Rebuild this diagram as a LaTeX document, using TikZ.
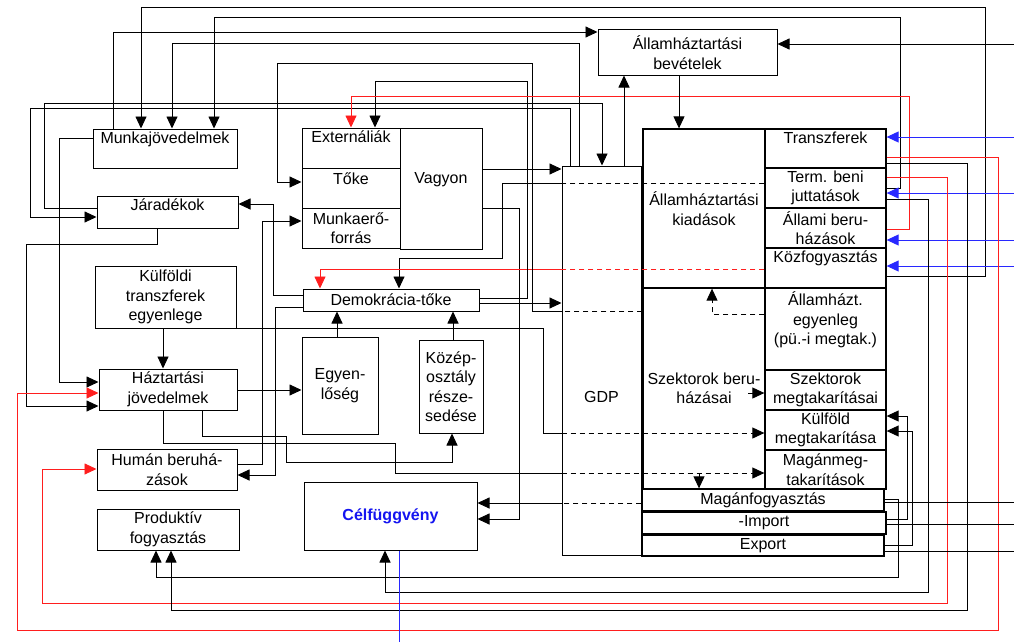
\documentclass[tikz,border=0pt]{standalone}
\usepackage{fontspec}
\setmainfont{Liberation Sans}
\usetikzlibrary{arrows.meta}
\definecolor{ln_red}{RGB}{255, 30, 30}
\definecolor{ln_blue}{RGB}{40, 40, 255}
\definecolor{goal_blue}{RGB}{20, 20, 240}
\tikzstyle{box}=[rectangle,draw=black,line width=1pt,inner sep=0pt,
  align=center,font=\fontsize{16}{19.5}\selectfont]
\tikzstyle{toplbl}=[anchor=north,inner sep=3pt]
\tikzstyle{wire}=[line width=0.9pt]
\tikzstyle{arr}=[wire,-{Triangle[length=12pt,width=11pt]}]
\tikzstyle{dashline}=[wire,dash pattern=on 5pt off 4pt]
\tikzstyle{dasharr}=[arr,dash pattern=on 5pt off 4pt]
\tikzstyle{red_arr}=[arr,draw=ln_red]
\tikzstyle{blue_arr}=[arr,draw=ln_blue]

\begin{document}
\begin{tikzpicture}[x=1pt, y=-1pt, every label/.style={font=\fontsize{16}{19.5}\selectfont}]
            \useasboundingbox (0,0) rectangle (1014,642);
            \node [style=box, minimum width=144pt, minimum height=39pt, label={[style=toplbl]north:Munkajövedelmek}] (0) at (165, 148.5) {};
            \node [style=box, minimum width=141pt, minimum height=32pt, label={[style=toplbl]north:Járadékok}] (1) at (167.5, 212) {};
            \node [style=box, minimum width=141pt, minimum height=62pt] (2) at (165.5, 297) {Külföldi\\transzferek\\egyenlege};
            \node [style=box, minimum width=138pt, minimum height=41pt] (3) at (168, 389.5) {Háztartási\\jövedelmek};
            \node [style=box, minimum width=140pt, minimum height=41pt] (4) at (167, 469.5) {Humán beruhá-\\zások};
            \node [style=box, minimum width=142pt, minimum height=41pt] (5) at (168, 529.5) {Produktív\\fogyasztás};
            \node [style=box, minimum width=98pt, minimum height=40pt, label={[style=toplbl]north:Externáliák}] (6) at (351, 148) {};
            \node [style=box, minimum width=98pt, minimum height=40pt, label={[style=toplbl, yshift=-2pt]north:Tőke}] (7) at (351, 188) {};
            \node [style=box, minimum width=98pt, minimum height=40pt] (8) at (351, 228) {Munkaerő-\\forrás};
            \node [style=box, minimum width=82pt, minimum height=121pt, label={[yshift=9pt]center:Vagyon}] (9) at (441, 188.5) {};
            \node [style=box, minimum width=176pt, minimum height=22pt] (10) at (391, 300) {Demokrácia-tőke};
            \node [style=box, minimum width=76pt, minimum height=97pt] (11) at (340, 385.5) {Egyen-\\lőség};
            \node [style=box, minimum width=64pt, minimum height=93pt] (12) at (451, 386.5) {Közép-\\osztály\\része-\\sedése};
            \node [style=box, minimum width=173pt, minimum height=68pt, text=goal_blue, font=\fontsize{16}{19.5}\selectfont\bfseries] (13) at (390.5, 516) {Célfüggvény};
            \node [style=box, minimum width=179pt, minimum height=45pt] (14) at (687.5, 52.5) {Államháztartási\\bevételek};
            \node [style=box, minimum width=79pt, minimum height=389pt, label={[yshift=-36pt]center:GDP}] (15) at (601.5, 360.5) {};
            \node [style=box, line width=1.3pt, minimum width=122pt, minimum height=159pt] (16) at (704, 208.5) {Államháztartási\\kiadások};
            \node [style=box, line width=1.3pt, minimum width=122pt, minimum height=201pt] (17) at (704, 388.5) {Szektorok beru-\\házásai};
            \node [style=box, line width=1.3pt, minimum width=121pt, minimum height=39pt, label={[style=toplbl]north:Transzferek}] (18) at (825.5, 148.5) {};
            \node [style=box, line width=1.3pt, minimum width=121pt, minimum height=40pt] (19) at (825.5, 188) {Term. beni\\juttatások};
            \node [style=box, line width=1.3pt, minimum width=121pt, minimum height=40pt] (20) at (825.5, 228) {Állami beru-\\házások};
            \node [style=box, line width=1.3pt, minimum width=121pt, minimum height=40pt, label={[style=toplbl]north:Közfogyasztás}] (21) at (825.5, 268) {};
            \node [style=box, line width=1.3pt, minimum width=121pt, minimum height=82pt, label={[align=center, yshift=9pt]center:Államházt.\\egyenleg\\(pü.-i megtak.)}] (22) at (825.5, 329) {};
            \node [style=box, line width=1.3pt, minimum width=121pt, minimum height=40pt] (23) at (825.5, 390) {Szektorok\\megtakarításai};
            \node [style=box, line width=1.3pt, minimum width=121pt, minimum height=40pt] (24) at (825.5, 430) {Külföld\\megtakarítása};
            \node [style=box, line width=1.3pt, minimum width=121pt, minimum height=39pt] (25) at (825.5, 469.5) {Magánmeg-\\takarítások};
            \node [style=box, line width=1.3pt, minimum width=242pt, minimum height=22pt] (26) at (763, 500) {Magánfogyasztás};
            \node [style=box, line width=1.3pt, minimum width=244pt, minimum height=22pt] (27) at (764, 523) {-Import};
            \node [style=box, line width=1.3pt, minimum width=242pt, minimum height=21pt] (28) at (763, 545.5) {Export};
            \coordinate (29) at (1014, 44);
            \coordinate (30) at (1014, 137);
            \coordinate (31) at (1014, 193);
            \coordinate (32) at (1014, 240);
            \coordinate (33) at (1014, 266);
            \coordinate (34) at (1014, 502);
            \coordinate (35) at (1014, 524);
            \coordinate (36) at (1014, 551);
            \coordinate (37) at (399, 642);
            \coordinate (38) at (748, 393);
            \coordinate (39) at (699, 473);
            \draw [style=arr] (0.north -| 113,0) |- (14.west |- 0,32);
            \draw [style=arr] (15.north -| 579,0) |- (172,43) -- (0.north -| 172,0);
            \draw [style=arr] (21.east |- 0,276) -| (985,7) -| (0.north -| 141,0);
            \draw [style=arr] (19.east |- 0,188) -| (900,17) -| (0.north -| 214,0);
            \draw [style=arr] (0.west |- 0,138) -| (59,382) -- (3.west |- 0,382);
            \draw [style=arr] (1.west |- 0,208) -| (44,103) -| (15.north -| 602,0);
            \draw [style=arr] (15.north -| 570,0) |- (30,108) |- (1.west |- 0,217);
            \draw [style=arr] (1.south -| 157,0) |- (26,244) |- (3.west |- 0,406);
            \draw [style=arr] (10.west |- 0,295) -| (273,204) -- (1.east |- 0,204);
            \draw [style=arr] (4.east |- 0,464) -| (262,221) -- (8.west |- 0,221);
            \draw [style=arr] (10.west |- 0,307) -| (275,475) -- (4.east |- 0,475);
            \draw [style=arr] (2.south -| 163,0) -- (3.north -| 163,0);
            \draw [style=arr] (3.east |- 0,390) -- (11.west |- 0,390);
            \draw [style=arr] (11.north -| 337,0) -- (10.south -| 337,0);
            \draw [style=arr] (12.north -| 453,0) -- (10.south -| 453,0);
            \draw [style=arr] (3.south -| 202,0) |- (286,436) |- (452,462) -- (12.south -| 452,0);
            \draw [style=wire] (3.south -| 163,0) |- (395,443) |- (15.west |- 0,473);
            \draw [style=dasharr] (15.west |- 0,473) -- (25.west |- 0,473);
            \draw [style=dasharr] (39) -- (26.north -| 39);
            \draw [style=wire] (2.south east) -| (543,433) -- (15.west |- 0,433);
            \draw [style=dasharr] (15.west |- 0,433) -- (24.west |- 0,433);
            \draw [style=arr] (9.east |- 0,169) -- (15.west |- 0,169);
            \draw [style=arr] (9.east |- 0,208) -| (519,519) -- (13.east |- 0,519);
            \draw [style=dashline] (26.west |- 0,503) -- (15.west |- 0,503);
            \draw [style=arr] (15.west |- 0,503) -- (13.east |- 0,503);
            \draw [style=dashline] (19.west |- 0,183) -- (15.west |- 0,183);
            \draw [style=arr] (15.west |- 0,183) -| (502,258) -| (10.north -| 399,0);
            \draw [style=dashline, draw=ln_red] (21.west |- 0,269) -- (15.west |- 0,269);
            \draw [style=red_arr] (15.west |- 0,269) -| (10.north -| 320,0);
            \draw [style=dashline] (17.west |- 0,311) -- (15.west |- 0,311);
            \draw [style=arr] (15.west |- 0,311) -| (532,63) -| (277,182) -- (7.west |- 0,182);
            \draw [style=arr] (10.east |- 0,298) -| (527,81) -| (6.north -| 375,0);
            \draw [style=arr] (10.east |- 0,303) -- (15.west |- 0,303);
            \draw [style=red_arr] (20.east |- 0,229) -| (909,96) -| (6.north -| 351,0);
            \draw [style=arr] (15.north -| 624,0) -- (14.south -| 624,0);
            \draw [style=arr] (14.south -| 679,0) -- (16.north -| 679,0);
            \draw [style=arr] (29) -- (14.east |- 29);
            \draw [style=blue_arr] (30) -- (18.east |- 30);
            \draw [style=blue_arr] (31) -- (19.east |- 31);
            \draw [style=blue_arr] (32) -- (20.east |- 32);
            \draw [style=blue_arr] (33) -- (21.east |- 33);
            \draw [style=red_arr] (18.east |- 0,157) -| (998,630) -| (17,393) -- (3.west |- 0,393);
            \draw [style=red_arr] (19.east |- 0,177) -| (947,603) -| (42,469) -- (4.west |- 0,469);
            \draw [style=arr] (18.east |- 0,163) -| (967,610) -| (5.south -| 171,0);
            \draw [style=arr] (19.east |- 0,199) -| (928,592) -| (13.south -| 385,0);
            \draw [style=arr] (26.east |- 0,499) -| (898,577) -| (5.south -| 156,0);
            \draw [style=arr] (27.east |- 0,519) -| (907,416) -- (24.east |- 0,416);
            \draw [style=arr] (28.east |- 0,545) -| (912,431) -- (24.east |- 0,431);
            \draw [style=wire] (26.east |- 34) -- (34);
            \draw [style=wire] (27.east |- 35) -- (35);
            \draw [style=wire] (28.east |- 36) -- (36);
            \draw [style=wire, draw=ln_blue] (13.south -| 37) -- (37);
            \draw [style=dasharr] (22.west |- 0,314) -| (16.south -| 712,0);
            \draw [style=dasharr] (38) -- (23.west |- 38);
    \end{tikzpicture}
\end{document}
